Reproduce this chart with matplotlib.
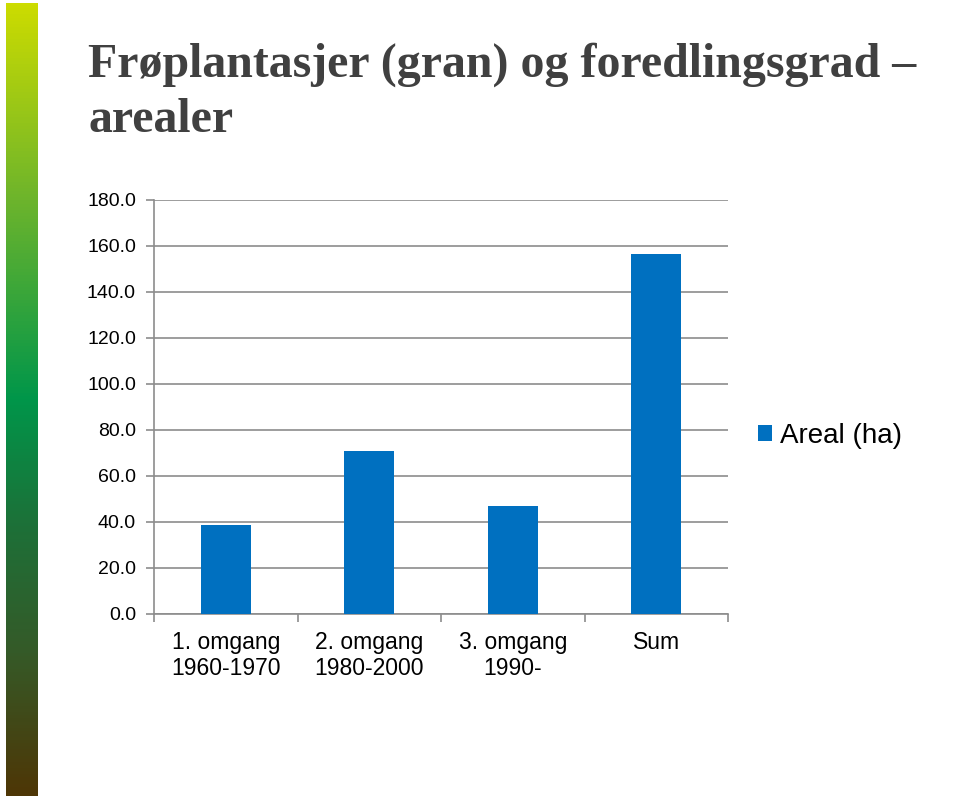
import numpy as np
import matplotlib.pyplot as plt
from matplotlib.colors import LinearSegmentedColormap
from matplotlib.patches import Patch

categories = ['1. omgang\n1960-1970', '2. omgang\n1980-2000', '3. omgang\n1990-', 'Sum']
areal = [38.8, 71.0, 46.8, 156.6]
yticks = [0, 20, 40, 60, 80, 100, 120, 140, 160, 180]
series_name = 'Areal (ha)'
title_lines = ['Frøplantasjer (gran) og foredlingsgrad –', 'arealer']

bar_color = '#0070c0'
grid_color = '#8c8c8c'


def main():
    fig = plt.figure(figsize=(9.6, 7.99), dpi=100)

    # green gradient strip on the left edge
    strip = fig.add_axes([6 / 960, 3 / 799, 32 / 960, 793 / 799])
    cmap = LinearSegmentedColormap.from_list('strip', [
        (0.0, '#cddc00'), (0.25, '#6cb42c'), (0.5, '#00964a'),
        (0.66, '#1d7038'), (0.82, '#355a28'), (1.0, '#4e3606')])
    strip.imshow(np.linspace(0, 1, 256)[:, None], aspect='auto', cmap=cmap)
    strip.axis('off')

    # title, one text per line so the line gap matches the slide
    for i, line in enumerate(title_lines):
        fig.text(88 / 960, 1 - (77 + 55 * i) / 799, line, ha='left',
                 va='baseline', fontsize=34.5, fontweight='bold',
                 family='Liberation Serif', color='#404040')

    ax = fig.add_axes([154 / 960, 1 - 614 / 799, 574 / 960, 414 / 799])
    x = np.arange(len(categories))
    ax.bar(x, areal, width=0.35, color=bar_color, zorder=3)

    ax.set_xlim(-0.5, len(categories) - 0.5)
    ax.set_ylim(0, 180)
    ax.set_yticks(yticks)
    ax.set_yticklabels(['%.1f' % v for v in yticks], family='Liberation Sans',
                       fontsize=14)
    ax.set_xticks(x)
    ax.set_xticklabels(categories, family='Liberation Sans', fontsize=16.5)
    ax.set_xticks(np.arange(len(categories) + 1) - 0.5, minor=True)
    ax.tick_params(axis='x', which='major', length=0, pad=12)
    ax.tick_params(axis='x', which='minor', length=6, color=grid_color,
                   width=1.2)
    ax.tick_params(axis='y', length=6, color=grid_color, width=1.2, pad=7)
    ax.yaxis.grid(True, color=grid_color, linewidth=1.2, zorder=0)
    for side in ['top', 'right']:
        ax.spines[side].set_visible(False)
    for side in ['left', 'bottom']:
        ax.spines[side].set_color(grid_color)
        ax.spines[side].set_linewidth(1.2)

    handle = Patch(facecolor=bar_color, label=series_name)
    fig.legend(handles=[handle], loc='center left',
               bbox_to_anchor=(733 / 960, 1 - 436 / 799), frameon=False,
               prop={'family': 'Liberation Sans', 'size': 20},
               handlelength=0.5, handleheight=0.5, handletextpad=0.3)

    fig.savefig('out.png', dpi=100)


if __name__ == '__main__':
    main()
